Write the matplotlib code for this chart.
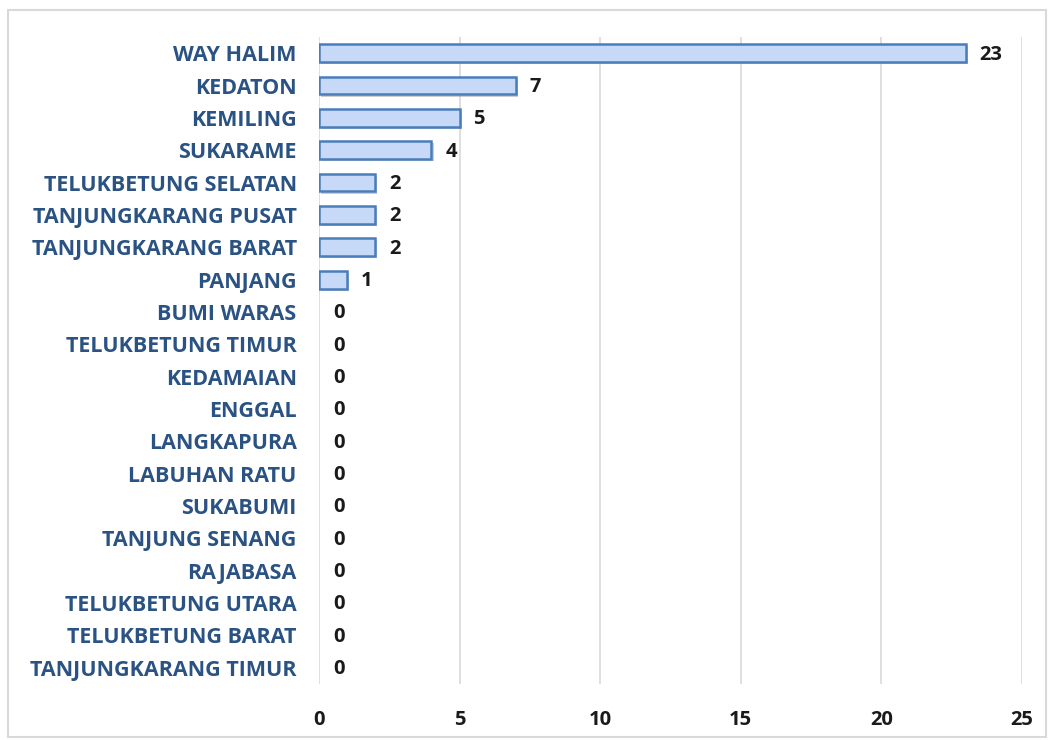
import matplotlib
matplotlib.use("Agg")
import matplotlib.pyplot as plt
import matplotlib.patheffects as pe
from matplotlib.patches import Rectangle

kecamatan = ['WAY HALIM', 'KEDATON', 'KEMILING', 'SUKARAME', 'TELUKBETUNG SELATAN',
             'TANJUNGKARANG PUSAT', 'TANJUNGKARANG BARAT', 'PANJANG', 'BUMI WARAS',
             'TELUKBETUNG TIMUR', 'KEDAMAIAN', 'ENGGAL', 'LANGKAPURA', 'LABUHAN RATU',
             'SUKABUMI', 'TANJUNG SENANG', 'RAJABASA', 'TELUKBETUNG UTARA',
             'TELUKBETUNG BARAT', 'TANJUNGKARANG TIMUR']
jumlah = [23, 7, 5, 4, 2, 2, 2, 1, 0, 0, 0, 0, 0, 0, 0, 0, 0, 0, 0, 0]
x_ticks = [0, 5, 10, 15, 20, 25]

fig = plt.figure(figsize=(10.52, 7.4), dpi=100)
ax = fig.add_axes([0.3032, 0.0757, 0.6683, 0.8743])

# chart border
fig.patches.append(Rectangle((0.008, 0.004), 0.986, 0.982, transform=fig.transFigure,
                             fill=False, edgecolor='#d9d9d9', linewidth=1.5))

ypos = list(range(len(kecamatan)))
bars = ax.barh(ypos, jumlah, height=0.55, color='#c6d9f7', edgecolor='#4a7ebb',
               linewidth=1.8, zorder=3)
for b, v in zip(bars, jumlah):
    if v == 0:
        b.set_linewidth(0)
        continue
    b.set_path_effects([pe.SimplePatchShadow(offset=(1.5, -1.5), shadow_rgbFace='#9a9a9a', alpha=0.5),
                        pe.Normal()])

for y, v in zip(ypos, jumlah):
    ax.annotate(str(v), (v, y), xytext=(10, -1), textcoords='offset points',
                ha='left', va='center', fontsize=14.5, fontweight='bold',
                family='Open Sans', color='#1a1a1a')

ax.set_xlim(0, 25)
ax.set_ylim(len(kecamatan) - 0.5, -0.5)
ax.set_xticks(x_ticks)
ax.set_yticks(ypos)
ax.set_yticklabels(kecamatan, fontsize=15.5, fontweight='bold', family='Open Sans',
                   color='#2a5283')
for lbl in ax.get_xticklabels():
    lbl.set_fontsize(14.5)
    lbl.set_fontweight('bold')
    lbl.set_family('Open Sans')
    lbl.set_color('#1a1a1a')
ax.tick_params(axis='y', length=0, pad=16)
ax.tick_params(axis='x', length=0, pad=19)
ax.grid(axis='x', color='#d9d9d9', linewidth=1.2, zorder=0)
ax.set_axisbelow(True)
for s in ax.spines.values():
    s.set_visible(False)

fig.savefig('out.png', dpi=100)
